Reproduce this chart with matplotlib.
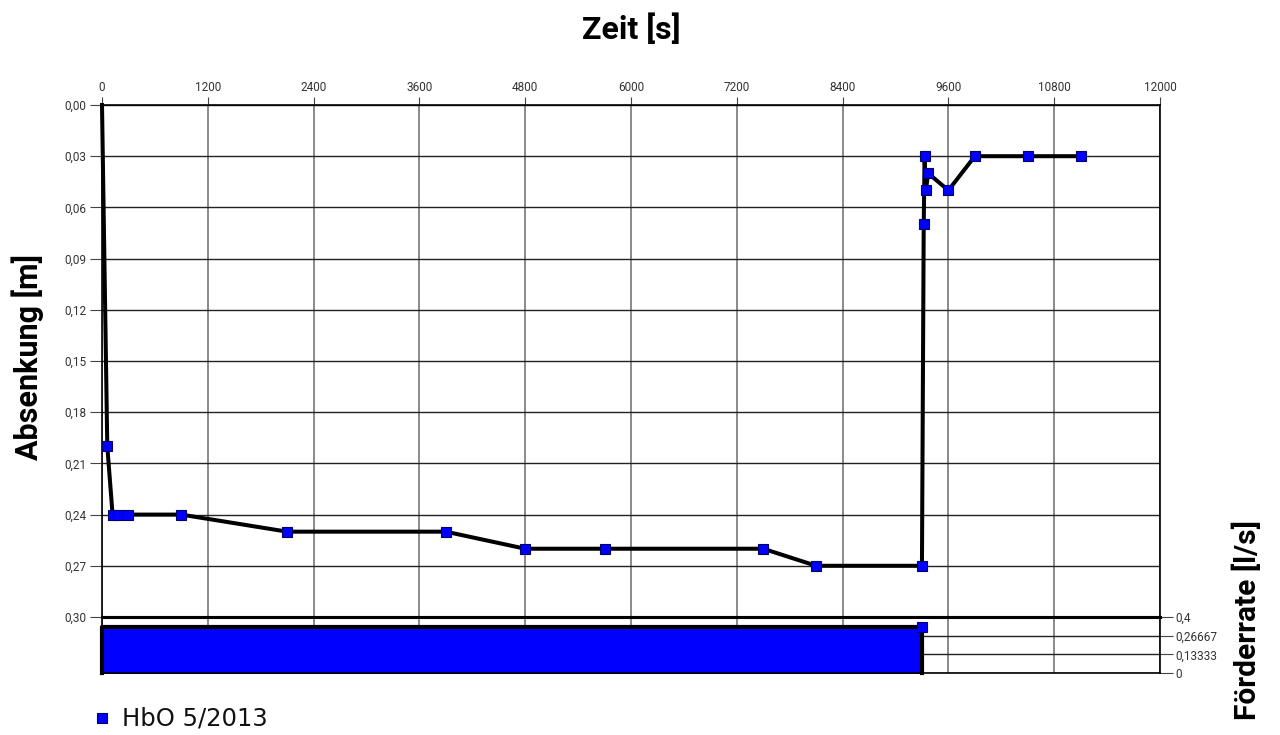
import matplotlib.pyplot as plt
from matplotlib.ticker import FuncFormatter, FixedLocator

# drawdown data
zeit = [0, 60, 120, 180, 300, 900, 2100, 3900, 4800, 5700, 7500, 8100, 9300,
        9320, 9330, 9345, 9370, 9600, 9900, 10500, 11100]
absenkung = [0.00, 0.20, 0.24, 0.24, 0.24, 0.24, 0.25, 0.25, 0.26, 0.26, 0.26, 0.27, 0.27,
             0.07, 0.03, 0.05, 0.04, 0.05, 0.03, 0.03, 0.03]

# pumping rate
pump_t = [0, 9300]
pump_q = [0.33, 0.33]

label_font = ['Liberation Sans Narrow', 'Roboto', 'DejaVu Sans']
tick_font = ['Liberation Sans Narrow', 'Roboto', 'DejaVu Sans']

fig = plt.figure(figsize=(12.8, 7.35), dpi=100)
ax = fig.add_axes([102/1280, 1-617/735, 1058/1280, 512/735])
ax2 = fig.add_axes([102/1280, 1-673/735, 1058/1280, 56/735], sharex=ax)

# main chart
ax.plot(zeit, absenkung, color='black', lw=2.9, zorder=3, clip_on=False,
        marker='s', ms=7.5, mfc='#0000ff', mec='#000066', mew=0.8,
        markevery=list(range(1, len(zeit))))
ax.set_xlim(0, 12000)
ax.set_ylim(0.30, 0.00)
ax.xaxis.set_major_locator(FixedLocator(range(0, 12001, 1200)))
ax.yaxis.set_major_locator(FixedLocator([i * 0.03 for i in range(11)]))
ax.yaxis.set_major_formatter(FuncFormatter(lambda v, p: f'{v:.2f}'.replace('.', ',')))
ax.xaxis.tick_top()
ax.tick_params(axis='x', direction='out', length=6, pad=2, labelsize=8.5, color='#444444')
ax.tick_params(axis='y', direction='out', length=9, pad=2, labelsize=8.5, color='#444444')
for lab in ax.get_xticklabels() + ax.get_yticklabels():
    lab.set_family(tick_font)
    lab.set_color('#333333')
ax.grid(axis='y', color='#222222', lw=1.0)
ax.grid(axis='x', color='#777777', lw=1.2)
ax.set_axisbelow(True)
for s in ['left', 'right', 'top']:
    ax.spines[s].set_color('black')
    ax.spines[s].set_linewidth(1.2)
ax.spines['bottom'].set_linewidth(2.2)

# pumping rate chart
ax2.fill_between(pump_t, pump_q, 0, color='#0000ff', zorder=2)
ax2.plot([pump_t[0], pump_t[0], pump_t[1], pump_t[1]], [0, pump_q[0], pump_q[1], 0],
         color='black', lw=3, zorder=3, clip_on=False)
ax2.plot(pump_t[1:], pump_q[1:], ls='none', marker='s', ms=7.5, mfc='#0000ff', mec='#000066',
         mew=0.8, zorder=4, clip_on=False)
ax2.set_ylim(0, 0.4)
ax2.yaxis.set_major_locator(FixedLocator([0, 0.13333, 0.26667, 0.4]))
ax2.yaxis.set_major_formatter(FuncFormatter(
    lambda v, p: {0: '0', 1: '0,13333', 2: '0,26667', 3: '0,4'}[p]))
ax2.yaxis.tick_right()
ax2.tick_params(axis='y', direction='out', length=9, pad=2, labelsize=8.5, color='#444444')
ax2.tick_params(axis='x', length=0, labelbottom=False, labeltop=False)
for lab in ax2.get_yticklabels():
    lab.set_family(tick_font)
    lab.set_color('#333333')
ax2.grid(axis='y', color='#222222', lw=1.0)
ax2.grid(axis='x', color='#777777', lw=1.2)
ax2.set_axisbelow(True)
ax2.spines['top'].set_linewidth(2.2)
for s in ['left', 'right', 'bottom']:
    ax2.spines[s].set_linewidth(1.2)

# axis titles
fig.text(631/1280, 1-29/735, 'Zeit [s]', ha='center', va='center', fontsize=23,
         fontweight='bold', family=label_font)
fig.text(28/1280, 1-357/735, 'Absenkung [m]', ha='center', va='center', rotation=90,
         fontsize=22, fontweight='bold', family=label_font)
fig.text(1247/1280, 1-520/735, 'Förderrate [l/s]', ha='center', va='top', rotation=90,
         fontsize=21.5, fontweight='bold', family=label_font)

# legend
fig.lines.append(plt.Line2D([101.5/1280], [1-718/735], transform=fig.transFigure, ls='none',
                            marker='s', ms=6.5, mfc='#0000ff', mec='#000066', mew=0.8))
fig.text(122/1280, 1-719/735, 'HbO 5/2013', ha='left', va='center', fontsize=17.5,
         family=['DejaVu Sans'], color='#111111')

fig.savefig('out.png', dpi=100)
